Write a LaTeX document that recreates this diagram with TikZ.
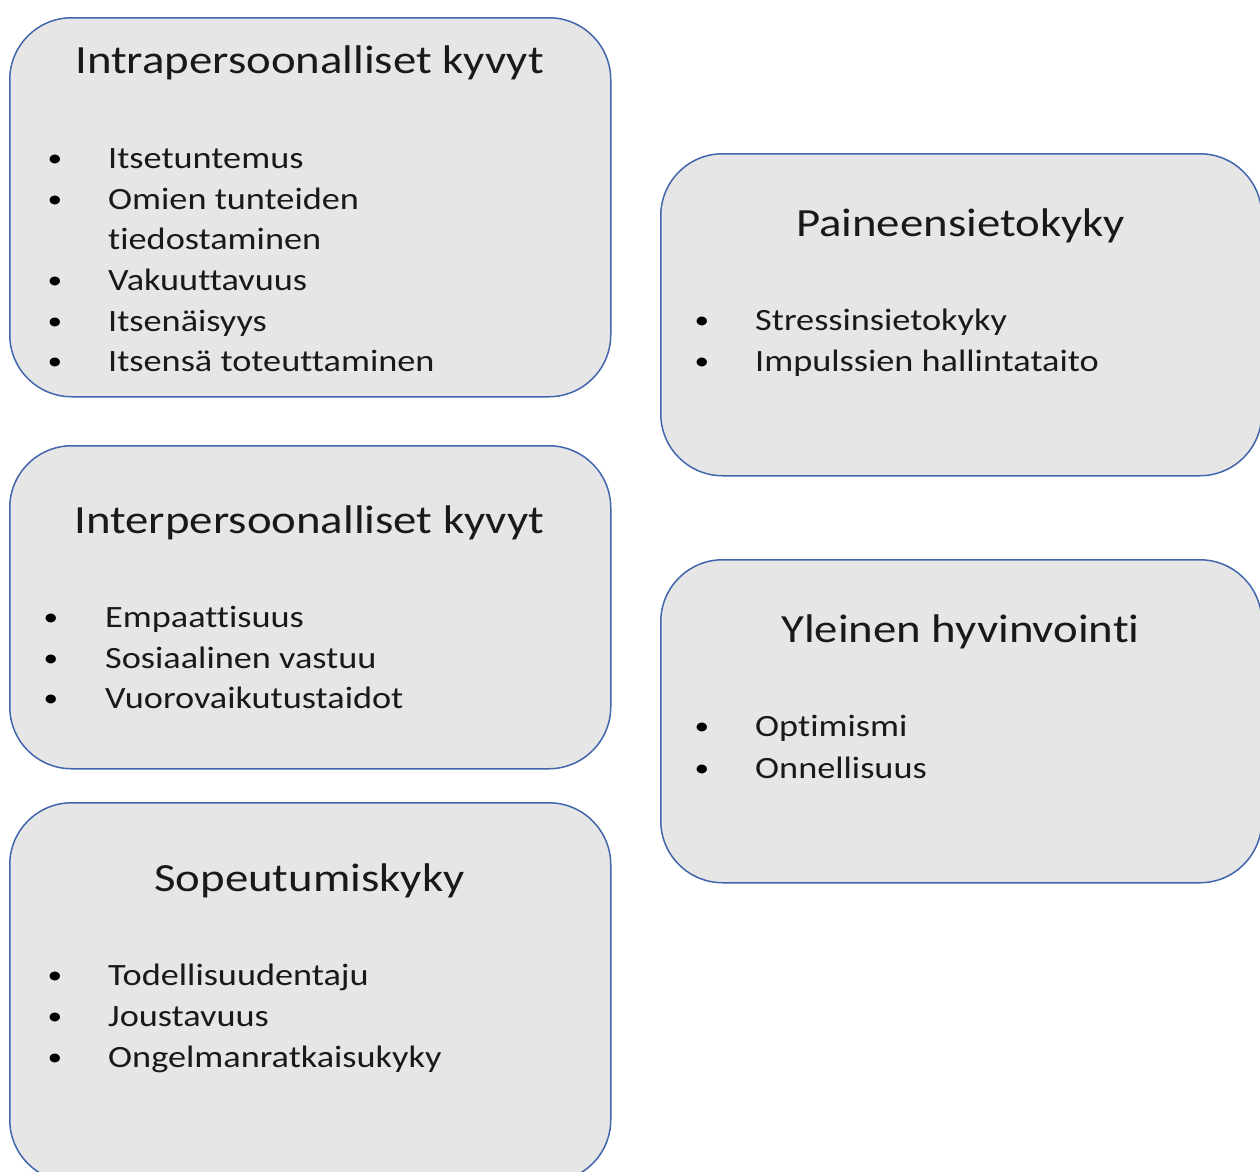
\documentclass[tikz,border=0pt]{standalone}
\usepackage{fontspec}
\setmainfont{Carlito}[FakeStretch=1.17, Ligatures={NoCommon}]
\definecolor{boxfill}{HTML}{E6E6E6}
\definecolor{boxline}{HTML}{4166AC}
\begin{document}
\begin{tikzpicture}[x=1pt,y=-1pt,
  panel/.style={draw=boxline, line width=1.5pt, fill=boxfill, rounded corners=62pt,
    minimum width=601pt, inner sep=0pt, anchor=north west},
  ttl/.style={font=\fontsize{40}{48}\selectfont, inner sep=0pt, anchor=base, text=black!90},
  itm/.style={font=\fontsize{31}{40.7}\selectfont, inner sep=0pt, anchor=base west, text=black!90},
  bul/.style={font=\fontsize{25}{30}\selectfont, inner sep=0pt, anchor=base, text=black}]
\useasboundingbox (0,0) rectangle (1260,1171);
\clip (0,0) rectangle (1260,1171);

% panels
\node[panel, minimum height=379pt] (b1) at (9,17) {};
\node[panel, minimum height=322pt] (b2) at (660,153) {};
\node[panel, minimum height=323pt] (b3) at (9,445) {};
\node[panel, minimum height=323pt] (b4) at (660,559) {};
\node[panel, minimum height=379pt] (b5) at (9,802) {};

% titles
\node[ttl] (t1) at (309.5,73) {Intrapersoonalliset kyvyt};
\node[ttl] (t2) at (960.5,236) {Paineensietokyky};
\node[ttl] (t3) at (309.5,533) {Interpersoonalliset kyvyt};
\node[ttl] (t4) at (960.5,642) {Yleinen hyvinvointi};
\node[ttl] (t5) at (309.5,891) {Sopeutumiskyky};

% box 1 items
\node[bul] (b1d1) at (55,166) {•};
\node[itm] (b1i1) at (108,168) {Itsetuntemus};
\node[bul] (b1d2) at (55,207) {•};
\node[itm] (b1i2) at (108,209) {Omien tunteiden};
\node[itm] (b1i2b) at (108,249) {tiedostaminen};
\node[bul] (b1d3) at (55,288) {•};
\node[itm] (b1i3) at (108,290) {Vakuuttavuus};
\node[bul] (b1d4) at (55,329) {•};
\node[itm] (b1i4) at (108,331) {Itsenäisyys};
\node[bul] (b1d5) at (55,369) {•};
\node[itm] (b1i5) at (108,371) {Itsensä toteuttaminen};

% box 2 items
\node[bul] (b2d1) at (702,328) {•};
\node[itm] (b2i1) at (755,330) {Stressinsietokyky};
\node[bul] (b2d2) at (702,369) {•};
\node[itm] (b2i2) at (755,371) {Impulssien hallintataito};

% box 3 items
\node[bul] (b3d1) at (51,625) {•};
\node[itm] (b3i1) at (105,627) {Empaattisuus};
\node[bul] (b3d2) at (51,666) {•};
\node[itm] (b3i2) at (105,668) {Sosiaalinen vastuu};
\node[bul] (b3d3) at (51,706) {•};
\node[itm] (b3i3) at (105,708) {Vuorovaikutustaidot};

% box 4 items
\node[bul] (b4d1) at (702,734) {•};
\node[itm] (b4i1) at (755,736) {Optimismi};
\node[bul] (b4d2) at (702,776) {•};
\node[itm] (b4i2) at (755,778) {Onnellisuus};

% box 5 items
\node[bul] (b5d1) at (55,983) {•};
\node[itm] (b5i1) at (108,985) {Todellisuudentaju};
\node[bul] (b5d2) at (55,1024) {•};
\node[itm] (b5i2) at (108,1026) {Joustavuus};
\node[bul] (b5d3) at (55,1065) {•};
\node[itm] (b5i3) at (108,1067) {Ongelmanratkaisukyky};
\end{tikzpicture}
\end{document}
